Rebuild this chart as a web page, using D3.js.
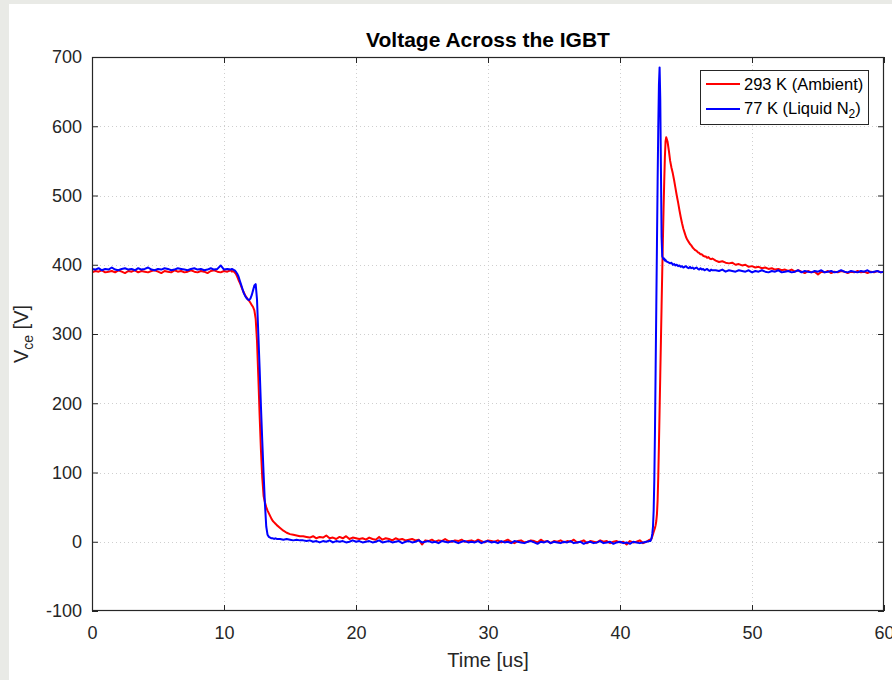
<!DOCTYPE html>
<html><head><meta charset="utf-8">
<script src="https://cdn.jsdelivr.net/npm/d3@7"></script>
<style>
html,body{margin:0;padding:0;background:#fff;}
svg{display:block;font-family:"Liberation Sans",Arial,Helvetica,sans-serif;}
</style></head><body>
<svg id="chart" width="892" height="680"></svg>
<script>
// ---- Data (time in us, voltage in V) ----
const timeA=[0,0.25,0.5,0.75,1,1.25,1.5,1.75,2,2.25,2.5,2.75,3,3.25,3.5,3.75,4,4.25,4.5,4.75,5,5.25,5.5,5.75,6,6.25,6.5,6.75,7,7.25,7.5,7.75,8,8.25,8.5,8.75,9,9.25,9.5,9.75,10,10.25,10.5];
const redA=[389,391,390,392,389,390,391,389,392,390,388,391,390,392,389,391,390,389,391,392,390,388,391,390,389,392,390,391,389,390,392,390,389,391,390,388,391,392,390,389,391,390,392];
const blueA=[394,393,395,392,394,393,396,393,392,394,395,393,394,392,395,393,394,396,393,392,394,393,395,394,392,393,395,394,393,392,394,395,393,394,392,393,395,393,394,399,393,394,393];

const timeB=[10.6,10.7,10.8,10.9,11,11.1,11.2,11.3,11.4,11.5,11.6,11.7,11.8,11.9,12,12.1,12.2,12.3,12.4,12.5,12.6,12.7,12.8,12.9,13,13.1,13.2,13.3,13.4,13.5,13.6,13.7,13.8,13.9,14];
const redB=[390,391,389,387,383,378,374,369,364,360,356,353,350,348,345,342,339,334,322,290,238,182,132,92,66,57,50,45,41,37,33,30,28,26,24];
const blueB=[394,393,392,390,387,383,377,371,365,359,355,352,350,349,351,356,363,370,372,350,300,250,195,145,98,55,22,10,7,6,5,5,4,5,4];

const timeC=[14.25,14.5,14.75,15,15.25,15.5,15.75,16,
16.25,16.5,16.75,17,17.25,17.5,17.75,18,18.25,18.5,18.75,19,19.25,19.5,19.75,20,
20.25,20.5,20.75,21,21.25,21.5,21.75,22,22.25,22.5,22.75,23,23.25,23.5,23.75,24,24.25,24.5,24.75,25,
25.25,25.5,25.75,26,26.25,26.5,26.75,27,27.25,27.5,27.75,28,28.25,28.5,28.75,29,29.25,29.5,29.75,30,
30.25,30.5,30.75,31,31.25,31.5,31.75,32,32.25,32.5,32.75,33,33.25,33.5,33.75,34,34.25,34.5,34.75,35,
35.25,35.5,35.75,36,36.25,36.5,36.75,37,37.25,37.5,37.75,38,38.25,38.5,38.75,39,39.25,39.5,39.75,40,
40.25,40.5,40.75,41,41.25,41.5,41.75,42,42.25];
const redC=[20,16,13,11,10,9,8,8,
7,6,8,5,7,6,9,5,6,4,7,5,8,4,6,5,
4,5,3,6,4,3,7,3,5,4,2,5,3,4,2,3,4,2,3,-4,
2,1,3,0,2,1,4,1,0,2,1,3,0,1,2,0,3,1,-1,2,
1,0,2,-1,1,3,0,-2,1,2,-1,0,2,1,-1,3,0,1,-2,1,
0,2,-1,1,0,3,-1,0,2,-2,1,0,-1,2,0,1,-2,0,1,-1,
0,-4,1,-1,0,2,-2,0,3];
const blueC=[4,3,4,3,2,3,2,2,
1,2,0,1,-1,1,0,2,-1,1,0,1,-1,0,2,0,
1,-1,0,1,-1,0,2,-1,0,1,-1,0,1,-2,0,1,-1,0,2,-1,
0,1,-1,0,-2,1,0,-1,1,0,-2,0,1,-1,0,-1,1,-2,0,1,
-1,0,-2,1,-1,0,-2,1,0,-1,-2,0,1,-1,-3,0,-1,1,-2,0,
-1,-2,0,-1,1,-2,-1,0,-3,-1,0,-2,-1,1,-2,-1,0,-3,-1,0,
-2,-1,-3,0,-1,-2,-1,0,1];

const timeD=[42.3,42.35,42.4,42.45,42.5,42.55,42.6,42.65,42.7,42.75,42.8,42.85,42.9,42.95,43,43.05,43.1,43.15,43.2,43.25,43.3,43.35,43.4,43.45,43.5];
const redD=[2,3,5,8,11,14,17,20,24,30,40,60,95,140,190,240,290,340,390,435,480,520,555,578,584];
const blueD=[1,3,6,12,22,45,90,160,250,340,430,520,600,660,685,640,540,440,412,410,408,409,406,407,405];

const timeE=[43.6,43.7,43.8,43.9,44,44.1,44.2,44.3,44.4,44.5,44.6,44.7,44.8,44.9,45,45.1,45.2,45.3,45.4,45.5,45.6,45.7,45.8,45.9,46,46.1,46.2,46.3,46.4,46.5,46.6,46.7,46.8,46.9,47];
const redE=[578,565,550,540,532,522,511,500,490,479,469,460,452,446,440,436,433,430,428,425,423,421,420,418,417,415,415,413,412,412,410,411,409,408,409];
const blueE=[404,403,402,403,400,401,399,400,398,399,397,398,396,397,398,396,395,397,395,396,394,395,396,394,393,395,393,394,392,393,394,392,391,393,392];

const timeF=[47.25,47.5,47.75,48,48.25,48.5,48.75,49,49.25,49.5,49.75,50,50.25,50.5,50.75,51,51.25,51.5,51.75,52,52.25,52.5,52.75,53,53.25,53.5,53.75,54,54.25,54.5,54.75,55,55.25,55.5,55.75,56,56.25,56.5,56.75,57,57.25,57.5,57.75,58,58.25,58.5,58.75,59,59.25,59.5,59.75,60];
const redF=[406,404,405,403,402,403,400,401,399,400,397,398,396,397,395,396,394,395,393,394,392,393,391,393,390,392,390,388,391,389,390,386,390,389,391,388,390,389,391,390,388,390,389,391,389,390,388,390,389,391,389,390];
const blueF=[392,391,393,390,392,391,390,392,391,390,392,389,391,390,392,390,389,391,390,392,389,390,391,389,390,392,389,391,390,389,391,390,392,389,390,391,389,390,392,390,389,391,390,389,391,390,392,389,390,391,389,390];

const xTicks=[0,10,20,30,40,50,60];
const yTicks=[-100,0,100,200,300,400,500,600,700];
const seriesLabels=["293 K (Ambient)","77 K (Liquid N","2",")"];
const seriesColors=["#ff0000","#0000ff"];

// ---- Build series ----
const times=[].concat(timeA,timeB,timeC,timeD,timeE,timeF);
const redV=[].concat(redA,redB,redC,redD,redE,redF);
const blueV=[].concat(blueA,blueB,blueC,blueD,blueE,blueF);
const n=Math.min(times.length,redV.length,blueV.length);
const redData=d3.range(n).map(i=>({t:times[i],v:redV[i]}));
const blueData=d3.range(n).map(i=>({t:times[i],v:blueV[i]}));

// ---- Layout ----
const W=892,H=680;
const L=92,R=884,T=57,B=611;
const textColor="#262626";
const axisColor="#262626";

const svg=d3.select("#chart");
svg.append("rect").attr("width",W).attr("height",H).attr("fill","#fff");
svg.append("rect").attr("x",0).attr("y",0).attr("width",9).attr("height",H).attr("fill","#e9eae6");
svg.append("rect").attr("x",0).attr("y",0).attr("width",W).attr("height",4).attr("fill","#e9eae6");

const x=d3.scaleLinear().domain([0,60]).range([L,R]);
const y=d3.scaleLinear().domain([-100,700]).range([B,T]);

// grid
const grid=svg.append("g");
grid.selectAll(".gx").data(xTicks.filter(d=>d>0&&d<60)).join("line")
  .attr("x1",d=>x(d)+0.5).attr("x2",d=>x(d)+0.5).attr("y1",T).attr("y2",B)
  .attr("stroke","#cfcfcf").attr("stroke-width",1).attr("stroke-dasharray","1,3");
grid.selectAll(".gy").data(yTicks.filter(d=>d>-100&&d<700)).join("line")
  .attr("x1",L).attr("x2",R).attr("y1",d=>Math.round(y(d))+0.5).attr("y2",d=>Math.round(y(d))+0.5)
  .attr("stroke","#cfcfcf").attr("stroke-width",1).attr("stroke-dasharray","1,3");

// clip
svg.append("clipPath").attr("id","clip").append("rect").attr("x",L).attr("y",T).attr("width",R-L).attr("height",B-T);

const line=d3.line().x(d=>x(d.t)).y(d=>y(d.v));
const plot=svg.append("g").attr("clip-path","url(#clip)");
plot.append("path").datum(redData).attr("d",line).attr("fill","none")
  .attr("stroke",seriesColors[0]).attr("stroke-width",2).attr("stroke-linejoin","round");
plot.append("path").datum(blueData).attr("d",line).attr("fill","none")
  .attr("stroke",seriesColors[1]).attr("stroke-width",2).attr("stroke-linejoin","round");

// axes
const fmt=d=>String(d);
function styleAxis(g){
  g.select(".domain").remove();
  g.selectAll(".tick line").attr("stroke",axisColor);
  g.selectAll(".tick text").attr("fill",textColor).attr("font-size",18).attr("font-family","'Liberation Sans',Arial,sans-serif");
}
svg.append("g").attr("transform",`translate(0,${B})`)
  .call(d3.axisBottom(x).tickValues(xTicks).tickFormat(fmt).tickSizeInner(-6).tickSizeOuter(0).tickPadding(15))
  .call(styleAxis);
svg.append("g").attr("transform",`translate(${L},0)`)
  .call(d3.axisLeft(y).tickValues(yTicks).tickFormat(fmt).tickSizeInner(-6).tickSizeOuter(0).tickPadding(10))
  .call(styleAxis);
svg.append("g").attr("transform",`translate(0,${T})`)
  .call(d3.axisTop(x).tickValues(xTicks).tickFormat("").tickSizeInner(-6).tickSizeOuter(0))
  .call(styleAxis);
svg.append("g").attr("transform",`translate(${R},0)`)
  .call(d3.axisRight(y).tickValues(yTicks).tickFormat("").tickSizeInner(-6).tickSizeOuter(0))
  .call(styleAxis);

// box
svg.append("rect").attr("x",L+0.5).attr("y",T+0.5).attr("width",R-L-1).attr("height",B-T-1)
  .attr("fill","none").attr("stroke",axisColor).attr("stroke-width",1.2);

// title
svg.append("text").attr("x",(L+R)/2).attr("y",47).attr("text-anchor","middle")
  .attr("font-size",21).attr("font-weight","bold").attr("fill","#000").text("Voltage Across the IGBT");

// x label
svg.append("text").attr("x",(L+R)/2).attr("y",667).attr("text-anchor","middle")
  .attr("font-size",20).attr("fill",textColor).text("Time [us]");

// y label
const yl=svg.append("text").attr("transform",`translate(28,${(T+B)/2}) rotate(-90)`)
  .attr("text-anchor","middle").attr("font-size",20).attr("fill",textColor);
yl.append("tspan").text("V");
yl.append("tspan").attr("font-size",14).attr("dy",5).text("ce");
yl.append("tspan").attr("dy",-5).text(" [V]");

// legend
const lg=svg.append("g");
lg.append("rect").attr("x",700.5).attr("y",70.5).attr("width",168).attr("height",54)
  .attr("fill","#fff").attr("stroke",axisColor).attr("stroke-width",1);
lg.append("line").attr("x1",706).attr("x2",740).attr("y1",84).attr("y2",84).attr("stroke",seriesColors[0]).attr("stroke-width",2);
lg.append("line").attr("x1",706).attr("x2",740).attr("y1",109).attr("y2",109).attr("stroke",seriesColors[1]).attr("stroke-width",2);
lg.append("text").attr("x",744).attr("y",90).attr("font-size",16.5).attr("fill","#000").text(seriesLabels[0]);
const t2=lg.append("text").attr("x",744).attr("y",114).attr("font-size",16.5).attr("fill","#000");
t2.append("tspan").text(seriesLabels[1]);
t2.append("tspan").attr("font-size",12).attr("dy",4).text(seriesLabels[2]);
t2.append("tspan").attr("dy",-4).text(seriesLabels[3]);
</script>
</body></html>
